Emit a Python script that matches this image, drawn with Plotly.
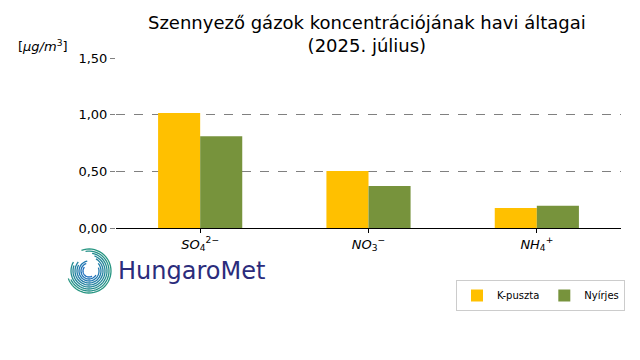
import numpy as np
import plotly.graph_objects as go

categories = ["<i>SO</i><sub>4</sub><sup>2−</sup>", "<i>NO</i><sub>3</sub><sup>−</sup>", "<i>NH</i><sub>4</sub><sup>+</sup>"]
kpuszta = [1.015, 0.503, 0.177]
nyirjes = [0.81, 0.37, 0.197]
yticks = [0, 0.5, 1.0, 1.5]
ytick_labels = ["0,00", "0,50", "1,00", "1,50"]

W, H = 640, 360
L, R, T, B = 116, 621, 58, 228

def to_paper(px, py):
    return (px - L) / (R - L), (B - py) / (B - T)

fig = go.Figure()
fig.add_bar(x=[0, 1, 2], y=kpuszta, name="K-puszta", marker_color="#FFC000",
            marker_line_width=0, width=0.25, offset=-0.25)
fig.add_bar(x=[0, 1, 2], y=nyirjes, name="Nyírjes", marker_color="#77933C",
            marker_line_width=0, width=0.25, offset=0)

shapes = []
# logo arcs
cx, cy = 89, 271
arcs = [
    (22, 200, 470), (20, 205, 460), (18, 150, 440), (16, 160, 430),
    (14, 140, 420), (12, 150, 400), (10, 100, 380), (8, 110, 330), (6, 140, 300),
]
for r, a0, a1 in arcs:
    angs = np.radians(np.linspace(a0, a1, 40))
    pts = [to_paper(cx + r * np.cos(a), cy - r * np.sin(a)) for a in angs]
    path = "M " + " L ".join(f"{x:.5f},{y:.5f}" for x, y in pts)
    frac = (r - 6) / 16
    col = f"rgb({int(30+10*frac)},{int(110+40*frac)},{int(190-60*frac)})"
    shapes.append(dict(type="path", path=path, xref="paper", yref="paper",
                       line=dict(color=col, width=1.3)))

lx, ly = to_paper(16, 46)
hx, hy = to_paper(116, 271)
tx, ty = to_paper((L + R) / 2 - 2, 34)

fig.update_layout(
    width=W, height=H,
    margin=dict(l=L, r=W - R, t=T, b=H - B),
    paper_bgcolor="white", plot_bgcolor="white",
    font=dict(family="DejaVu Sans", size=13, color="black"),
    barmode="overlay",
    xaxis=dict(range=[-0.5, 2.5], tickmode="array", tickvals=[0, 1, 2], ticktext=categories,
               showline=True, linecolor="black", linewidth=1.3, ticks="outside",
               ticklen=4, tickcolor="black", showgrid=False, zeroline=False,
               tickfont=dict(size=13)),
    yaxis=dict(range=[0, 1.502], tickmode="array", tickvals=yticks, ticktext=ytick_labels,
               showline=False, showgrid=True, gridcolor="gray", griddash="dash",
               gridwidth=1, ticks="outside", ticklen=5, tickcolor="gray",
               zeroline=False, tickfont=dict(size=13)),
    legend=dict(orientation="h", x=(625 - L) / (R - L), xanchor="right",
                y=(B - 280) / (B - T), yanchor="top", bordercolor="#cccccc",
                borderwidth=1, font=dict(size=10), itemwidth=30),
    showlegend=True,
    shapes=shapes,
    annotations=[
        dict(text="Szennyező gázok koncentrációjának havi áltagai<br>(2025. július)",
             x=tx, y=ty, xref="paper", yref="paper", xanchor="center", yanchor="middle",
             showarrow=False, font=dict(size=18)),
        dict(text="[<i>μg/m</i><sup>3</sup>]", x=lx, y=ly, xref="paper", yref="paper",
             xanchor="left", yanchor="middle", showarrow=False, font=dict(size=13)),
        dict(text="HungaroMet", x=hx, y=hy,
             xref="paper", yref="paper", xanchor="left", yanchor="middle",
             showarrow=False, font=dict(size=24, family="DejaVu Sans", color="#2B2C7C")),
    ],
)
fig.write_html("out.html", config={"displayModeBar": False})
with open("out.html", encoding="utf-8") as f:
    html = f.read()
html = html.replace("<body>", '<body style="margin:0;padding:0;overflow:hidden">', 1)
with open("out.html", "w", encoding="utf-8") as f:
    f.write(html)
